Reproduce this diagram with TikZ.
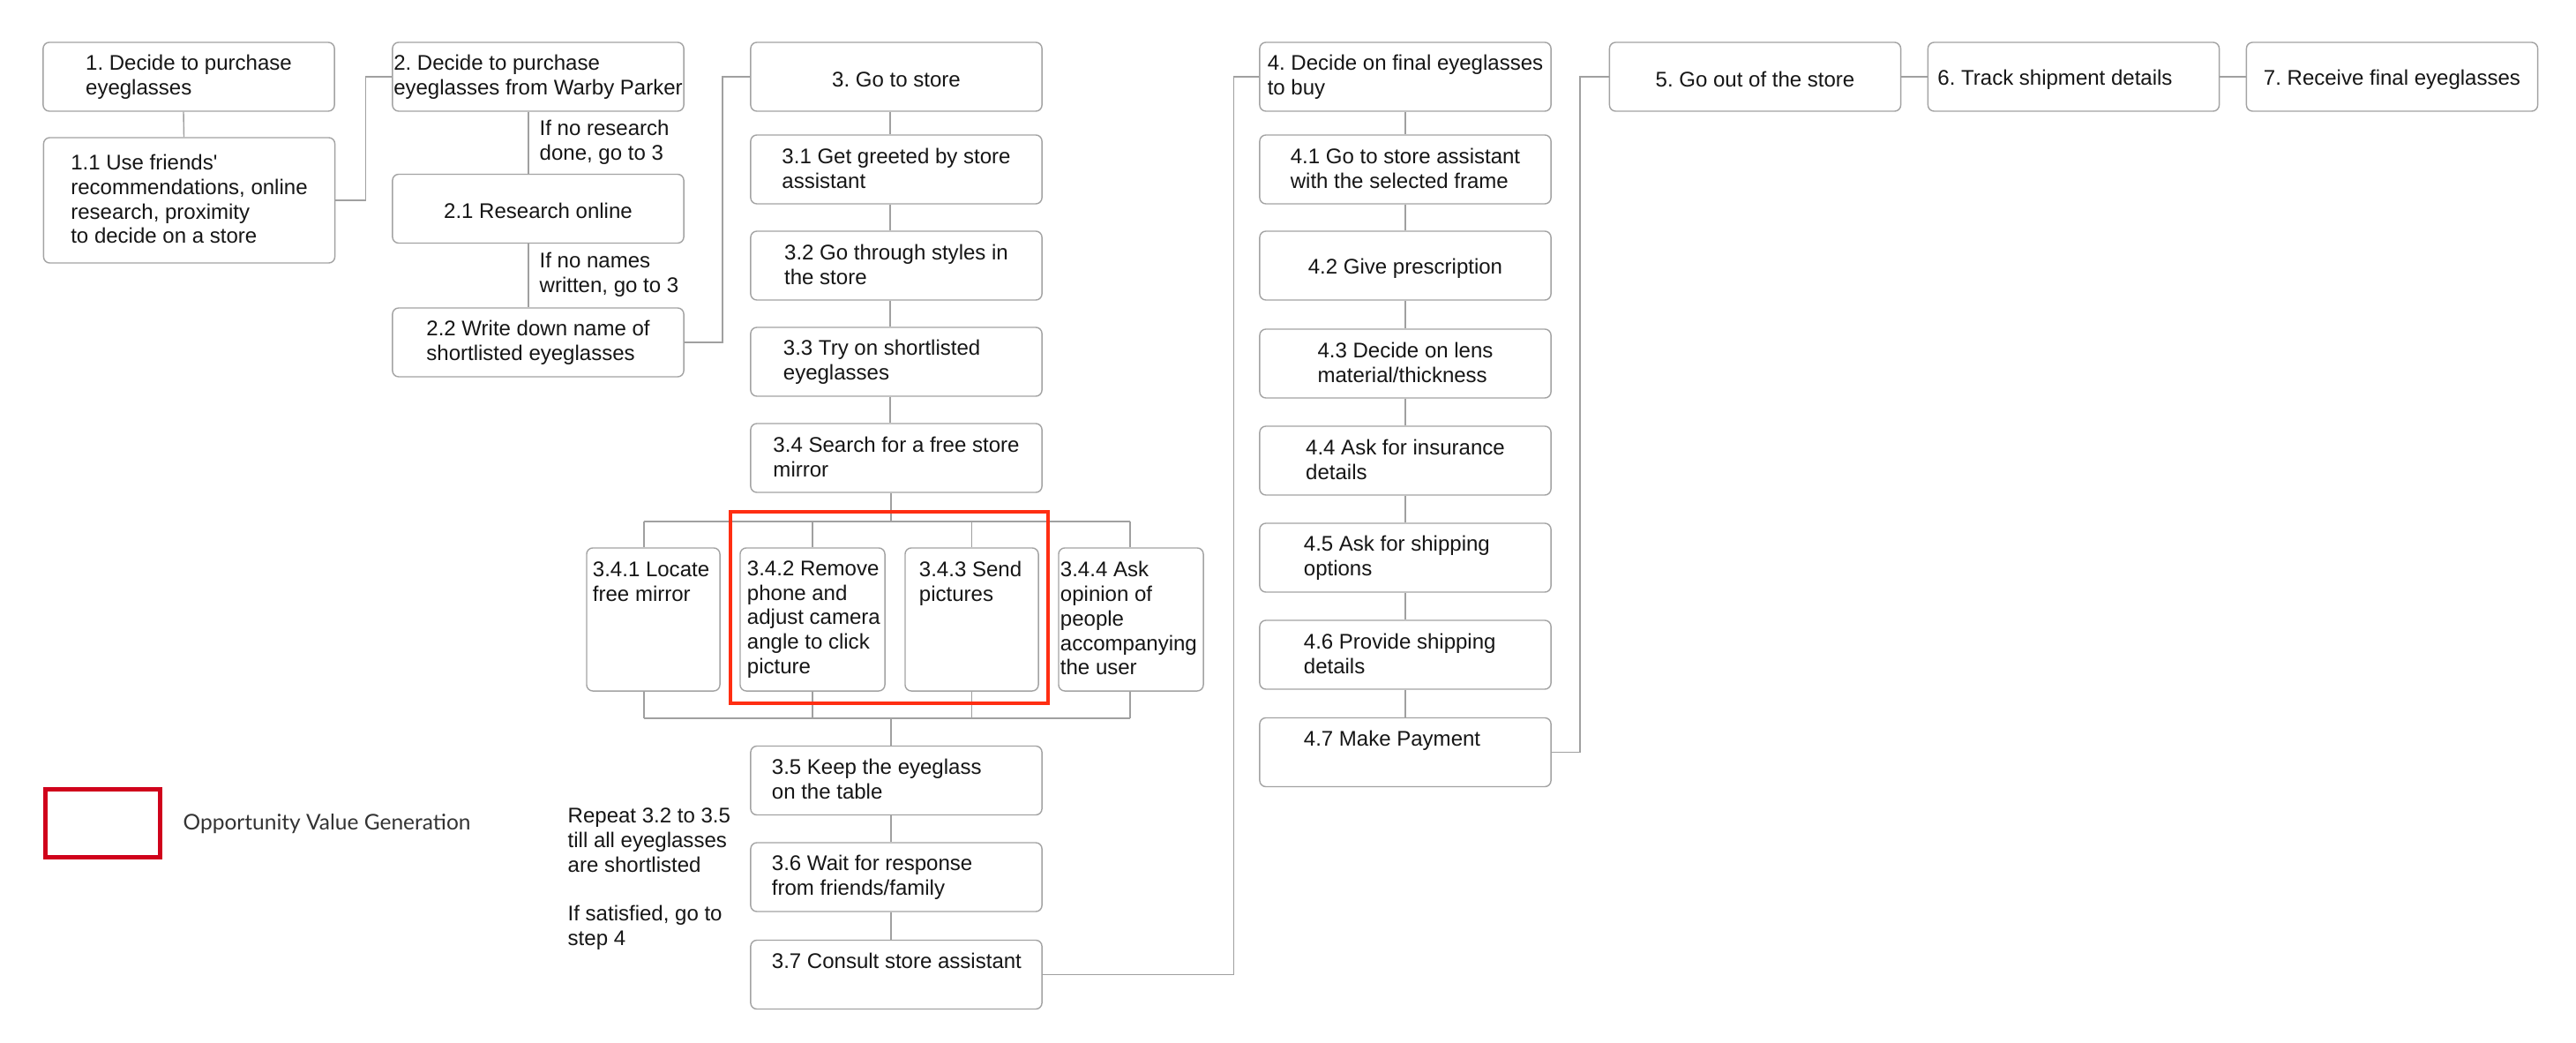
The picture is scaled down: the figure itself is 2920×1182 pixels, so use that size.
\documentclass[tikz,border=0pt]{standalone}
\usepackage{fontspec}
\setmainfont{Liberation Sans}
\newfontfamily\legendfont{Lato}
\usetikzlibrary{calc}
\definecolor{boxgray}{HTML}{A3A3A3}
\definecolor{linegray}{HTML}{A0A0A0}
\definecolor{txtc}{HTML}{161616}
\definecolor{oppred}{HTML}{FF2E12}
\definecolor{legred}{HTML}{D0021B}
\definecolor{legtext}{HTML}{333333}
\newcommand\mainfs{\fontsize{6.83pt}{7.88pt}\selectfont\frenchspacing}
\newcommand\lstrut{\rule[-0.1\baselineskip]{0pt}{\baselineskip}}
\tikzset{
  txt/.style={inner sep=0pt, align=left, font=\mainfs, text=txtc,
    execute at begin node=\lstrut, execute at end node=\lstrut},
  bx/.style={txt, draw=boxgray, line width=0.4pt, rounded corners=2pt,
    minimum width=3.3cm, minimum height=0.78cm},
  subbx/.style={bx, minimum height=1.62cm},
  lab/.style={txt, anchor=west},
  ln/.style={draw=linegray, line width=0.4pt},
}
\begin{document}
\begin{tikzpicture}[x=0.01cm, y=-0.01cm]
\useasboundingbox[fill=white] (0,0) rectangle (2920,1182);

% column 1
\node[bx] (b1) at (214,87) {1. Decide to purchase\\eyeglasses};
\node[bx, minimum height=1.42cm] (b11) at (214.5,227) {1.1 Use friends\textquotesingle\\recommendations, online\\research, proximity\\to decide on a store};

% column 2
\node[bx] (b2) at (610,87) {2. Decide to purchase\\eyeglasses from Warby Parker};
\node[bx] (b21) at (610,236.5) {2.1 Research online};
\node[bx] (b22) at (610,388) {2.2 Write down name of\\shortlisted eyeglasses};
\node[lab] (l1) at (611,161) {If no research\\done, go to 3};
\node[lab] (l2) at (611,311) {If no names\\written, go to 3};

% column 3
\node[bx] (b3) at (1016,87) {3. Go to store};
\node[bx] (b31) at (1016,192) {3.1 Get greeted by store\\assistant};
\node[bx] (b32) at (1016,301) {3.2 Go through styles in\\the store};
\node[bx] (b33) at (1016,410) {};
\node[lab] (t33) at ($(b33.west)+(37,0)$) {3.3 Try on shortlisted\\eyeglasses};
\node[bx] (b34) at (1016,519) {3.4 Search for a free store\\mirror};

\node[subbx, minimum width=1.51cm] (b341) at (740.5,702) {};
\node[subbx, minimum width=1.64cm] (b342) at (921,702) {};
\node[subbx, minimum width=1.51cm] (b343) at (1101.5,702) {};
\node[subbx, minimum width=1.64cm] (b344) at (1282,702) {};
\node[lab] (t341) at ($(b341.west)+(7,0)$) {3.4.1 Locate\\free mirror\\~\\~\\~};
\node[lab] (t342) at ($(b342.west)+(8,0)$) {3.4.2 Remove\\phone and\\adjust camera\\angle to click\\picture};
\node[lab] (t343) at ($(b343.west)+(16,0)$) {3.4.3 Send\\pictures\\~\\~\\~};
\node[lab] (t344) at ($(b344.west)+(2,0)$) {3.4.4 Ask\\opinion of\\people\\accompanying\\the user};

\node[bx] (b35) at (1016,884.5) {};
\node[bx] (b36) at (1016,994) {};
\node[bx] (b37) at (1016,1104.5) {};
\node[lab] (t35) at ($(b35.west)+(24,0)$) {3.5 Keep the eyeglass\\on the table};
\node[lab] (t36) at ($(b36.west)+(24,0)$) {3.6 Wait for response\\from friends/family};
\node[lab] (t37) at ($(b37.west)+(24,0)$) {3.7 Consult store assistant\\~};

\node[lab] (rep) at (643,996) {Repeat 3.2 to 3.5\\till all eyeglasses\\are shortlisted\\~\\If satisfied, go to\\step 4};

% column 4
\node[bx] (b4) at (1593,87) {4. Decide on final eyeglasses\\to buy};
\node[bx] (b41) at (1593,192) {4.1 Go to store assistant\\with the selected frame};
\node[bx] (b42) at (1593,301) {4.2 Give prescription};
\node[bx] (b43) at (1593,412) {4.3 Decide on lens\\material/thickness};
\node[bx] (b44) at (1593,522) {4.4 Ask for insurance\\details};
\node[bx] (b45) at (1593,632) {};
\node[bx] (b46) at (1593,742) {};
\node[bx] (b47) at (1593,852.5) {};
\node[lab] (t45) at ($(b45.west)+(50,0)$) {4.5 Ask for shipping\\options};
\node[lab] (t46) at ($(b46.west)+(50,0)$) {4.6 Provide shipping\\details};
\node[lab] (t47) at ($(b47.west)+(50,0)$) {4.7 Make Payment\\~};

% columns 5-7
\node[bx] (b5) at (1989.5,87) {5. Go out of the store};
\node[bx] (b6) at (2350.5,87) {};
\node[lab] (t6) at ($(b6.west)+(11,0)$) {6. Track shipment details};
\node[bx] (b7) at (2711.5,87) {7. Receive final eyeglasses};

% connectors
\draw[ln] ($(b1.south)+(-6,0)$) -- ($(b11.north)+(-6,0)$);
\draw[ln] (b11.east) -- ++(34,0) |- (b2.west);
\draw[ln] ($(b2.south)+(-11,0)$) -- ($(b21.north)+(-11,0)$);
\draw[ln] ($(b21.south)+(-11,0)$) -- ($(b22.north)+(-11,0)$);
\draw[ln] (b22.east) -- ++(43,0) |- (b3.west);

\draw[ln] ($(b3.south)+(-7,0)$) -- ($(b31.north)+(-7,0)$);
\draw[ln] ($(b31.south)+(-7,0)$) -- ($(b32.north)+(-7,0)$);
\draw[ln] ($(b32.south)+(-7,0)$) -- ($(b33.north)+(-7,0)$);
\draw[ln] ($(b33.south)+(-7,0)$) -- ($(b34.north)+(-7,0)$);

\coordinate (bt) at (1010,591);
\coordinate (bb) at (1010,814);
\coordinate (tl) at (730,591);
\coordinate (tr) at (1281,591);
\coordinate (bl) at (730,814);
\coordinate (br) at (1281,814);
\draw[ln] (b34.south -| bt) -- (bt);
\draw[ln] (tl) -- (tr);
\draw[ln] (tl) -- (b341.north -| tl);
\draw[ln] (b342.north |- tl) -- (b342.north);
\draw[ln] (b343.north |- tl) -- (b343.north);
\draw[ln] (tr) -- (b344.north -| tr);
\draw[ln] (bl) -- (br);
\draw[ln] (bl) -- (b341.south -| bl);
\draw[ln] (b342.south |- bl) -- (b342.south);
\draw[ln] (b343.south |- bl) -- (b343.south);
\draw[ln] (br) -- (b344.south -| br);
\draw[ln] (bb) -- (b35.north -| bb);
\draw[ln] (b35.south -| bb) -- (b36.north -| bb);
\draw[ln] (b36.south -| bb) -- (b37.north -| bb);
\draw[ln] (b37.east) -- ++(216.5,0) |- (b4.west);

\draw[ln] (b4) -- (b41);
\draw[ln] (b41) -- (b42);
\draw[ln] (b42) -- (b43);
\draw[ln] (b43) -- (b44);
\draw[ln] (b44) -- (b45);
\draw[ln] (b45) -- (b46);
\draw[ln] (b46) -- (b47);
\draw[ln] (b47.east) -- ++(32,0) |- (b5.west);
\draw[ln] (b5) -- (b6);
\draw[ln] (b6) -- (b7);

% opportunity highlight
\node[draw=oppred, line width=0.04cm, minimum width=3.6cm, minimum height=2.17cm, inner sep=0pt] (opp) at (1008,688.5) {};

% legend
\node[draw=legred, line width=0.05cm, minimum width=1.3cm, minimum height=0.77cm, inner sep=0pt] (leg) at (116.5,933) {};
\node[inner sep=0pt, anchor=west, font=\legendfont\fontsize{6.97pt}{8pt}\selectfont, text=legtext] (legt) at (207,934) {Opportunity Value Generation};
\end{tikzpicture}
\end{document}
